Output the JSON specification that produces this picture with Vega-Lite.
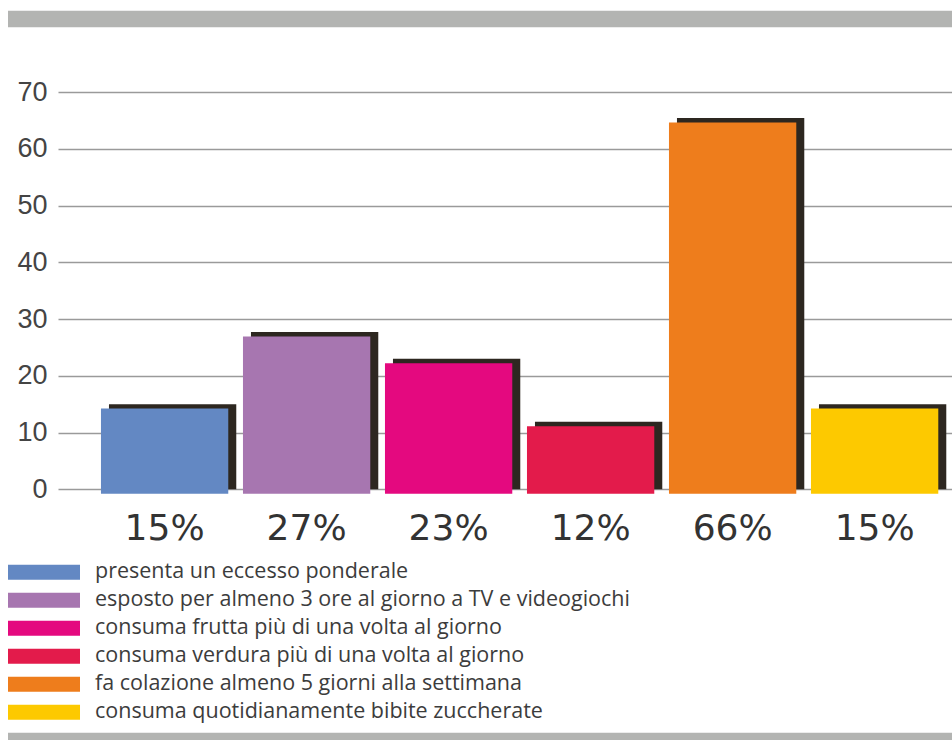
{
  "$schema": "https://vega.github.io/schema/vega-lite/v6.json",
  "width": 894,
  "height": 397.3,
  "autosize": "none",
  "padding": {"left": 58, "top": 92, "right": 0, "bottom": 250.7},
  "background": "white",
  "config": {
    "view": {"stroke": null},
    "font": "Liberation Sans",
    "axisY": {
      "grid": true,
      "domain": false,
      "ticks": false,
      "labelPadding": 11,
      "labelFont": "Liberation Sans",
      "labelFontSize": 27,
      "labelColor": "#444444",
      "gridColor": "#9a9a9a",
      "gridWidth": 1.6,
      "gridOpacity": 1
    }
  },
  "data": {
    "values": [
      {"cat": "presenta un eccesso ponderale", "value": 15.0, "pct": "15%"},
      {"cat": "esposto per almeno 3 ore al giorno a TV e videogiochi", "value": 27.7, "pct": "27%"},
      {"cat": "consuma frutta più di una volta al giorno", "value": 23.0, "pct": "23%"},
      {"cat": "consuma verdura più di una volta al giorno", "value": 11.9, "pct": "12%"},
      {"cat": "fa colazione almeno 5 giorni alla settimana", "value": 65.4, "pct": "66%"},
      {"cat": "consuma quotidianamente bibite zuccherate", "value": 15.0, "pct": "15%"}
    ]
  },
  "layer": [
    {
      "data": {"values": [{"band": "top"}]},
      "mark": {"type": "rect", "color": "#b3b4b2"},
      "encoding": {
        "x": {"value": -50},
        "x2": {"value": "width"},
        "y": {"datum": 84.3, "type": "quantitative", "axis": {"title": null, "grid": true, "values": [0, 10, 20, 30, 40, 50, 60, 70]}},
        "y2": {"datum": 81.4}
      }
    },
    {
      "data": {"values": [{"band": "bottom"}]},
      "mark": {"type": "rect", "color": "#b3b4b2"},
      "encoding": {
        "x": {"value": -50},
        "x2": {"value": "width"},
        "y": {"datum": -42.9, "type": "quantitative"},
        "y2": {"datum": -44.5}
      }
    },
    {
      "mark": {"type": "bar", "color": "#2d2720", "xOffset": 8, "x2Offset": 8},
      "encoding": {
        "x": {
          "field": "cat",
          "type": "nominal",
          "sort": null,
          "scale": {"paddingInner": 0.1035, "paddingOuter": 0.1996, "align": 0.758},
          "axis": null
        },
        "y": {
          "field": "value",
          "type": "quantitative",
          "scale": {"domain": [0, 70], "nice": false, "zero": true},
          "axis": {"title": null, "grid": true, "values": [0, 10, 20, 30, 40, 50, 60, 70]}
        }
      }
    },
    {
      "mark": {"type": "bar", "yOffset": 4.4, "y2Offset": 4.4},
      "encoding": {
        "x": {"field": "cat", "type": "nominal", "sort": null, "axis": null},
        "y": {"field": "value", "type": "quantitative"},
        "color": {
          "field": "cat",
          "type": "nominal",
          "sort": null,
          "scale": {
            "domain": [
              "presenta un eccesso ponderale",
              "esposto per almeno 3 ore al giorno a TV e videogiochi",
              "consuma frutta più di una volta al giorno",
              "consuma verdura più di una volta al giorno",
              "fa colazione almeno 5 giorni alla settimana",
              "consuma quotidianamente bibite zuccherate"
            ],
            "range": ["#6388c3", "#a776b0", "#e4097f", "#e31b4b", "#ee7d1c", "#fdc900"]
          },
          "legend": {
            "orient": "none",
            "legendX": -50,
            "legendY": 466.6,
            "title": null,
            "symbolType": "M-1,-0.2083H1V0.2083H-1Z",
            "symbolSize": 5184,
            "symbolStrokeWidth": 0,
            "symbolOpacity": 1,
            "labelFont": "Open Sans",
            "labelFontSize": 21.5,
            "labelColor": "#3c3c3c",
            "labelOffset": 15,
            "labelLimit": 700,
            "clipHeight": 27.2,
            "rowPadding": 0,
            "padding": 0
          }
        }
      }
    },
    {
      "mark": {"type": "text", "dy": 40, "baseline": "middle", "align": "center", "font": "DejaVu Sans", "fontSize": 36, "color": "#333333"},
      "encoding": {
        "x": {"field": "cat", "type": "nominal", "sort": null, "axis": null},
        "y": {"datum": 0, "type": "quantitative"},
        "text": {"field": "pct"}
      }
    }
  ]
}
